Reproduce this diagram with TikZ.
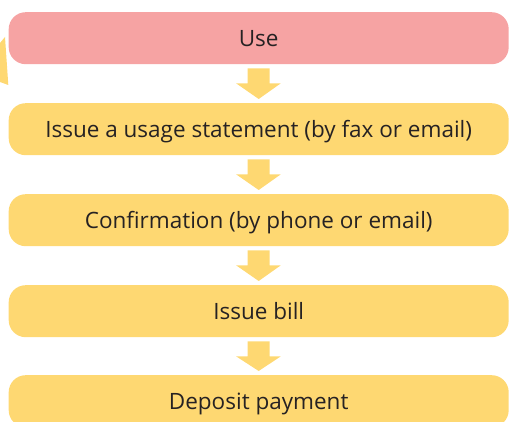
\documentclass[tikz,border=0pt]{standalone}
\usepackage{fontspec}
\setmainfont{Open Sans}
\usetikzlibrary{calc}
\definecolor{pinkbox}{HTML}{F6A3A3}
\definecolor{yelbox}{HTML}{FED872}
\definecolor{txt}{HTML}{262223}
\begin{document}
\begin{tikzpicture}[x=1pt,y=-1pt,
  stepbox/.style={fill=yelbox,rounded corners=17pt,minimum width=500pt,minimum height=52pt,inner sep=0pt,text height=17pt,text depth=1pt,text=txt,font=\fontsize{22.5}{25}\selectfont,anchor=north west},
  flowarrow/.style={fill=yelbox,draw=none}]
\useasboundingbox (0,0) rectangle (509,422);
\node[stepbox,fill=pinkbox] (use) at (8.5,12) {Use};
\node[stepbox] (issue) at (8.5,103) {Issue a usage statement (by fax or email)};
\node[stepbox] (conf) at (8.5,194) {Confirmation (by phone or email)};
\node[stepbox] (bill) at (8.5,285) {Issue bill};
\node[stepbox] (dep) at (8.5,375) {Deposit payment};
\foreach \a/\b in {use/issue,issue/conf,conf/bill,bill/dep}{
  \fill[flowarrow] ($(\a.south)+(-11,4)$) -- ++(22,0) -- ++(0,15) -- ++(11,0)
    -- ($(\b.north)+(0,-4)$) -- ($(\a.south)+(-22.5,19)$) -- ++(11.5,0) -- cycle;
}
\fill[yelbox] (0,43) -- (5,37) -- (8.3,85) -- (0,82) -- cycle;
\end{tikzpicture}
\end{document}
